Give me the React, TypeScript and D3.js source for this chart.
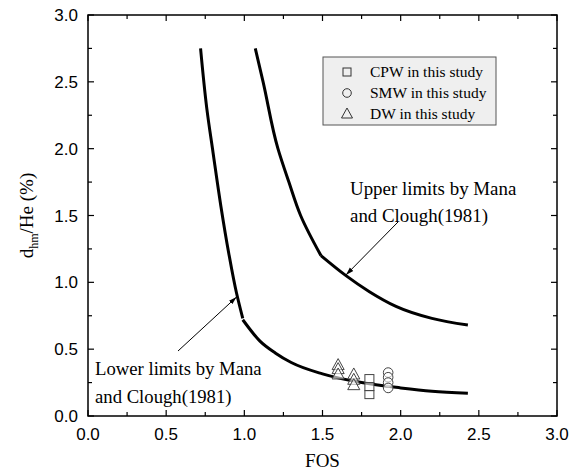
import React from "react";
import * as d3 from "d3";

const lowerLeft: [number, number][] = [
  [0.72, 2.75], [0.76, 2.3], [0.8, 1.97], [0.85, 1.57], [0.9, 1.22], [0.95, 0.92], [0.99, 0.73],
];
const lowerRight: [number, number][] = [
  [0.99, 0.72], [1.1, 0.56], [1.2, 0.47], [1.3, 0.4], [1.5, 0.315], [1.75, 0.25], [2.0, 0.21], [2.2, 0.185], [2.43, 0.17],
];
const upperLeft: [number, number][] = [
  [1.07, 2.75], [1.12, 2.5], [1.215, 2.0], [1.285, 1.75], [1.36, 1.5], [1.49, 1.2],
];
const upperRight: [number, number][] = [
  [1.49, 1.2], [1.65, 1.05], [1.8, 0.93], [1.97, 0.82], [2.2, 0.73], [2.43, 0.68],
];

const cpw: [number, number][] = [[1.8, 0.28], [1.8, 0.22], [1.8, 0.16]];
const smw: [number, number][] = [[1.92, 0.325], [1.92, 0.29], [1.92, 0.25], [1.92, 0.21]];
const dw: [number, number][] = [
  [1.6, 0.38], [1.6, 0.35], [1.6, 0.31],
  [1.7, 0.31], [1.7, 0.27], [1.7, 0.23],
];

const xTicks = [0, 0.5, 1.0, 1.5, 2.0, 2.5, 3.0];
const yTicks = [0, 0.5, 1.0, 1.5, 2.0, 2.5, 3.0];
const minorTicks = [0.25, 0.75, 1.25, 1.75, 2.25, 2.75];
const legendLabels = ["CPW in this study", "SMW in this study", "DW in this study"];

export default function App() {
  const L = 88, R = 557, T = 15, B = 416;
  const x = d3.scaleLinear().domain([0, 3]).range([L, R]);
  const y = d3.scaleLinear().domain([0, 3]).range([B, T]);
  const line = d3.line<[number, number]>().x(d => x(d[0])).y(d => y(d[1])).curve(d3.curveMonotoneX);
  const lineV = d3.line<[number, number]>().x(d => x(d[0])).y(d => y(d[1])).curve(d3.curveMonotoneY);
  const serif = "'Liberation Serif', 'Times New Roman', serif";
  const sans = "'Liberation Sans', Arial, sans-serif";
  const tri = (cx: number, cy: number, s: number) =>
    `M${cx},${cy - s * 0.6} L${cx + s * 0.55},${cy + s * 0.4} L${cx - s * 0.55},${cy + s * 0.4} Z`;

  return (
    <svg width={570} height={475} style={{ display: "block", position: "absolute", left: 0, top: 0 }}>
      <defs>
        <marker id="ah" viewBox="0 0 10 10" refX="10" refY="5" markerWidth="8" markerHeight="8" orient="auto" markerUnits="userSpaceOnUse">
          <path d="M0,2 L10,5 L0,8 Z" fill="#000" />
        </marker>
      </defs>
      <rect x={0} y={0} width={570} height={475} fill="#fff" />
      <rect x={L} y={T} width={R - L} height={B - T} fill="none" stroke="#000" strokeWidth={1.5} />
      {xTicks.map(t => (
        <g key={"xt" + t}>
          <line x1={x(t)} x2={x(t)} y1={B} y2={B - 6} stroke="#000" strokeWidth={1.2} />
          <line x1={x(t)} x2={x(t)} y1={T} y2={T + 6} stroke="#000" strokeWidth={1.2} />
          <text x={x(t)} y={B + 24} textAnchor="middle" fontFamily={sans} fontSize={17} fill="#000">{t.toFixed(1)}</text>
        </g>
      ))}
      {minorTicks.map(t => (
        <g key={"xm" + t}>
          <line x1={x(t)} x2={x(t)} y1={B} y2={B - 4} stroke="#000" strokeWidth={1.2} />
          <line x1={x(t)} x2={x(t)} y1={T} y2={T + 4} stroke="#000" strokeWidth={1.2} />
          <line x1={L} x2={L + 4} y1={y(t)} y2={y(t)} stroke="#000" strokeWidth={1.2} />
          <line x1={R} x2={R - 4} y1={y(t)} y2={y(t)} stroke="#000" strokeWidth={1.2} />
        </g>
      ))}
      {yTicks.map(t => (
        <g key={"yt" + t}>
          <line x1={L} x2={L + 6} y1={y(t)} y2={y(t)} stroke="#000" strokeWidth={1.2} />
          <line x1={R} x2={R - 6} y1={y(t)} y2={y(t)} stroke="#000" strokeWidth={1.2} />
          <text x={L - 10} y={y(t) + 6} textAnchor="end" fontFamily={sans} fontSize={17} fill="#000">{t.toFixed(1)}</text>
        </g>
      ))}
      <text x={(L + R) / 2} y={467} textAnchor="middle" fontFamily={serif} fontSize={19} fill="#000">FOS</text>
      <text transform={`translate(33, ${(T + B) / 2}) rotate(-90)`} textAnchor="middle" fontFamily={serif} fontSize={19} fill="#000">
        d<tspan fontSize={12} dy={5}>hm</tspan><tspan dy={-5}>/He (%)</tspan>
      </text>
      <path d={lineV(lowerLeft) || ""} fill="none" stroke="#000" strokeWidth={3} />
      <path d={line(lowerRight) || ""} fill="none" stroke="#000" strokeWidth={3} />
      <path d={lineV(upperLeft) || ""} fill="none" stroke="#000" strokeWidth={3} />
      <path d={line(upperRight) || ""} fill="none" stroke="#000" strokeWidth={3} />
      {cpw.map((d, i) => (
        <rect key={"c" + i} x={x(d[0]) - 4.5} y={y(d[1]) - 4} width={9} height={8} fill="#fff" fillOpacity={0.6} stroke="#444" strokeWidth={1} />
      ))}
      {smw.map((d, i) => (
        <circle key={"s" + i} cx={x(d[0])} cy={y(d[1])} r={4.8} fill="#fff" fillOpacity={0.6} stroke="#444" strokeWidth={1} />
      ))}
      {dw.map((d, i) => (
        <path key={"d" + i} d={tri(x(d[0]), y(d[1]), 11)} fill="#fff" fillOpacity={0.6} stroke="#444" strokeWidth={1} />
      ))}
      <line x1={178} y1={351} x2={x(0.95)} y2={y(0.89)} stroke="#000" strokeWidth={1} markerEnd="url(#ah)" />
      <text x={95} y={375} fontFamily={serif} fontSize={18.7} fill="#000">Lower limits by Mana</text>
      <text x={95} y={403} fontFamily={serif} fontSize={18.7} fill="#000">and Clough(1981)</text>
      <line x1={398} y1={222} x2={x(1.65)} y2={y(1.055)} stroke="#000" strokeWidth={1} markerEnd="url(#ah)" />
      <text x={350} y={195} fontFamily={serif} fontSize={18.9} fill="#000">Upper limits by Mana</text>
      <text x={350} y={222} fontFamily={serif} fontSize={18.9} fill="#000">and Clough(1981)</text>
      <rect x={323} y={57} width={173} height={68} fill="#efefef" stroke="#555" strokeWidth={1} />
      {legendLabels.map((lab, i) => {
        const cy = 72 + i * 21;
        const cx = 347;
        return (
          <g key={lab}>
            {i === 0 && <rect x={cx - 4} y={cy - 4} width={8} height={8} fill="none" stroke="#333" strokeWidth={1} />}
            {i === 1 && <circle cx={cx} cy={cy} r={4.3} fill="none" stroke="#333" strokeWidth={1} />}
            {i === 2 && <path d={tri(cx, cy, 10)} fill="none" stroke="#333" strokeWidth={1} />}
            <text x={370} y={cy + 5} fontFamily={serif} fontSize={15.5} fill="#000">{lab}</text>
          </g>
        );
      })}
    </svg>
  );
}
